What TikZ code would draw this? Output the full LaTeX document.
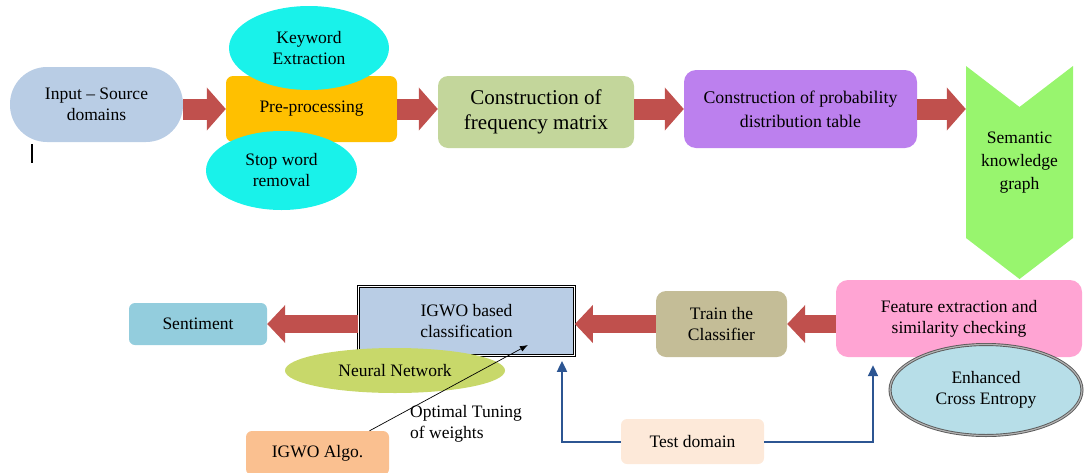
\documentclass[tikz,border=0pt]{standalone}
\usepackage{fontspec}
\setmainfont{Liberation Serif}
\usetikzlibrary{arrows.meta,shapes.geometric,calc}
\definecolor{cInp}{HTML}{B9CDE5}
\definecolor{cPre}{HTML}{FFC000}
\definecolor{cCyan}{HTML}{19F2EA}
\definecolor{cFreq}{HTML}{C3D69B}
\definecolor{cProb}{HTML}{BC80EE}
\definecolor{cGreen}{HTML}{98F56E}
\definecolor{cPink}{HTML}{FFA4D3}
\definecolor{cECE}{HTML}{B7DEE8}
\definecolor{cTrain}{HTML}{C4BD97}
\definecolor{cSent}{HTML}{93CDDD}
\definecolor{cNN}{HTML}{C8D86A}
\definecolor{cAlgo}{HTML}{FAC090}
\definecolor{cTest}{HTML}{FDE9D9}
\definecolor{cRed}{HTML}{C0504D}
\definecolor{cBlue}{HTML}{2C5592}
\tikzset{
  txt/.style={font=\fontsize{17.5}{21}\selectfont, align=center, inner sep=0pt, text=black},
  box/.style={txt, rectangle, rounded corners=#1},
  box/.default=8pt,
  ell/.style={txt, ellipse},
  fat/.style={draw=cRed, line width=21pt, -{Triangle[length=19pt,width=42pt]}},
  fatb/.style={draw=cRed, line width=18pt, -{Triangle[length=18pt,width=37pt]}},
  blueline/.style={draw=cBlue, line width=2pt, -{Triangle[length=11pt,width=10pt]}},
}
\begin{document}
\begin{tikzpicture}[x=1pt,y=-1pt]
\useasboundingbox (0,0) rectangle (1084,472);
% top row
\node[box=37pt, fill=cInp, minimum width=173pt, minimum height=75pt] (inp) at (96.5,104.5) {Input -- Source\\domains};
\node[box=7pt, fill=cPre, minimum width=171pt, minimum height=66pt] (pre) at (311.5,109) {Pre-processing};
\node[ell, fill=cCyan, minimum width=160pt, minimum height=84pt] (kw) at (309,48) {Keyword\\Extraction};
\node[ell, fill=cCyan, minimum width=151pt, minimum height=79pt] (sw) at (281.5,170.5) {Stop word\\removal};
\node[box=10pt, fill=cFreq, minimum width=196pt, minimum height=72pt, font=\fontsize{21}{25}\selectfont] (freq) at (536,112) {Construction of\\frequency matrix};
\node[box=12pt, fill=cProb, minimum width=233pt, minimum height=78pt, font=\fontsize{17.8}{24}\selectfont] (prob) at (800.5,109) {Construction of probability\\distribution table};
\fill[cGreen] (966,66) -- (1019.5,107) -- (1073,66) -- (1073,238) -- (1019.5,279) -- (966,238) -- cycle;
\node[txt, minimum width=107pt, font=\fontsize{17.5}{23}\selectfont] (skg) at (1019.5,163) {Semantic\\knowledge\\graph};
% bottom row
\node[box=12pt, fill=cPink, minimum width=246pt, minimum height=77pt] (feat) at (959,318.5) {Feature extraction and\\similarity checking};
\node[ell, fill=cECE, draw=gray!70!black, double=white!40!gray, double distance=1.2pt, line width=0.9pt, minimum width=192pt, minimum height=91pt] (ece) at (986,390) {Enhanced\\Cross Entropy};
\node[box=10pt, fill=cTrain, minimum width=131pt, minimum height=66pt] (train) at (721.5,324) {Train the\\Classifier};
\node[txt, fill=cInp, draw=black, double=white, double distance=1.6pt, line width=0.8pt, minimum width=216pt, minimum height=69pt] (igwo) at (466.5,321) {IGWO based\\classification};
\node[box=6pt, fill=cSent, minimum width=138pt, minimum height=42pt] (sent) at (198,324) {Sentiment};
\node[ell, fill=cNN, minimum width=220pt, minimum height=45pt] (nn) at (395,370.5) {Neural Network};
\node[box=6pt, fill=cAlgo, minimum width=143pt, minimum height=44pt] (algo) at (317.5,453) {IGWO Algo.};
\node[box=6pt, fill=cTest, minimum width=143pt, minimum height=45pt] (test) at (692.5,441.5) {Test domain};
\node[txt, align=left, anchor=west] (opt) at (410,424) {Optimal Tuning\\ of weights};
% fat arrows
\draw[fat] (pre.west -| inp.east) -- (pre.west);
\draw[fat] (pre.east) -- (pre.east -| freq.west);
\draw[fat] (freq.east |- prob.west) -- (prob.west);
\draw[fat] (prob.east) -- (prob.east -| skg.west);
\draw[fatb] (feat.west |- train.east) -- (train.east);
\draw[fatb] (train.west) -- (train.west -| igwo.east);
\draw[fatb] (igwo.west |- sent.east) -- (sent.east);
% thin arrow
\coordinate (tip) at ($(igwo.center)+(61.5pt,-24pt)$);
\draw[black, line width=0.7pt, -{Latex[length=8pt,width=6pt]}] ([xshift=52pt]algo.north) -- (tip);
% blue lines
\draw[blueline, shorten >=5pt] (test.west) -| ([xshift=95.5pt]igwo.south);
\draw[blueline, shorten >=8pt] (test.east) -| ([xshift=-86pt]feat.south);
% stray cursor mark
\coordinate (cur) at (32,144);
\draw[black, line width=2.5pt] (cur) -- ++(0,19);
\end{tikzpicture}
\end{document}
